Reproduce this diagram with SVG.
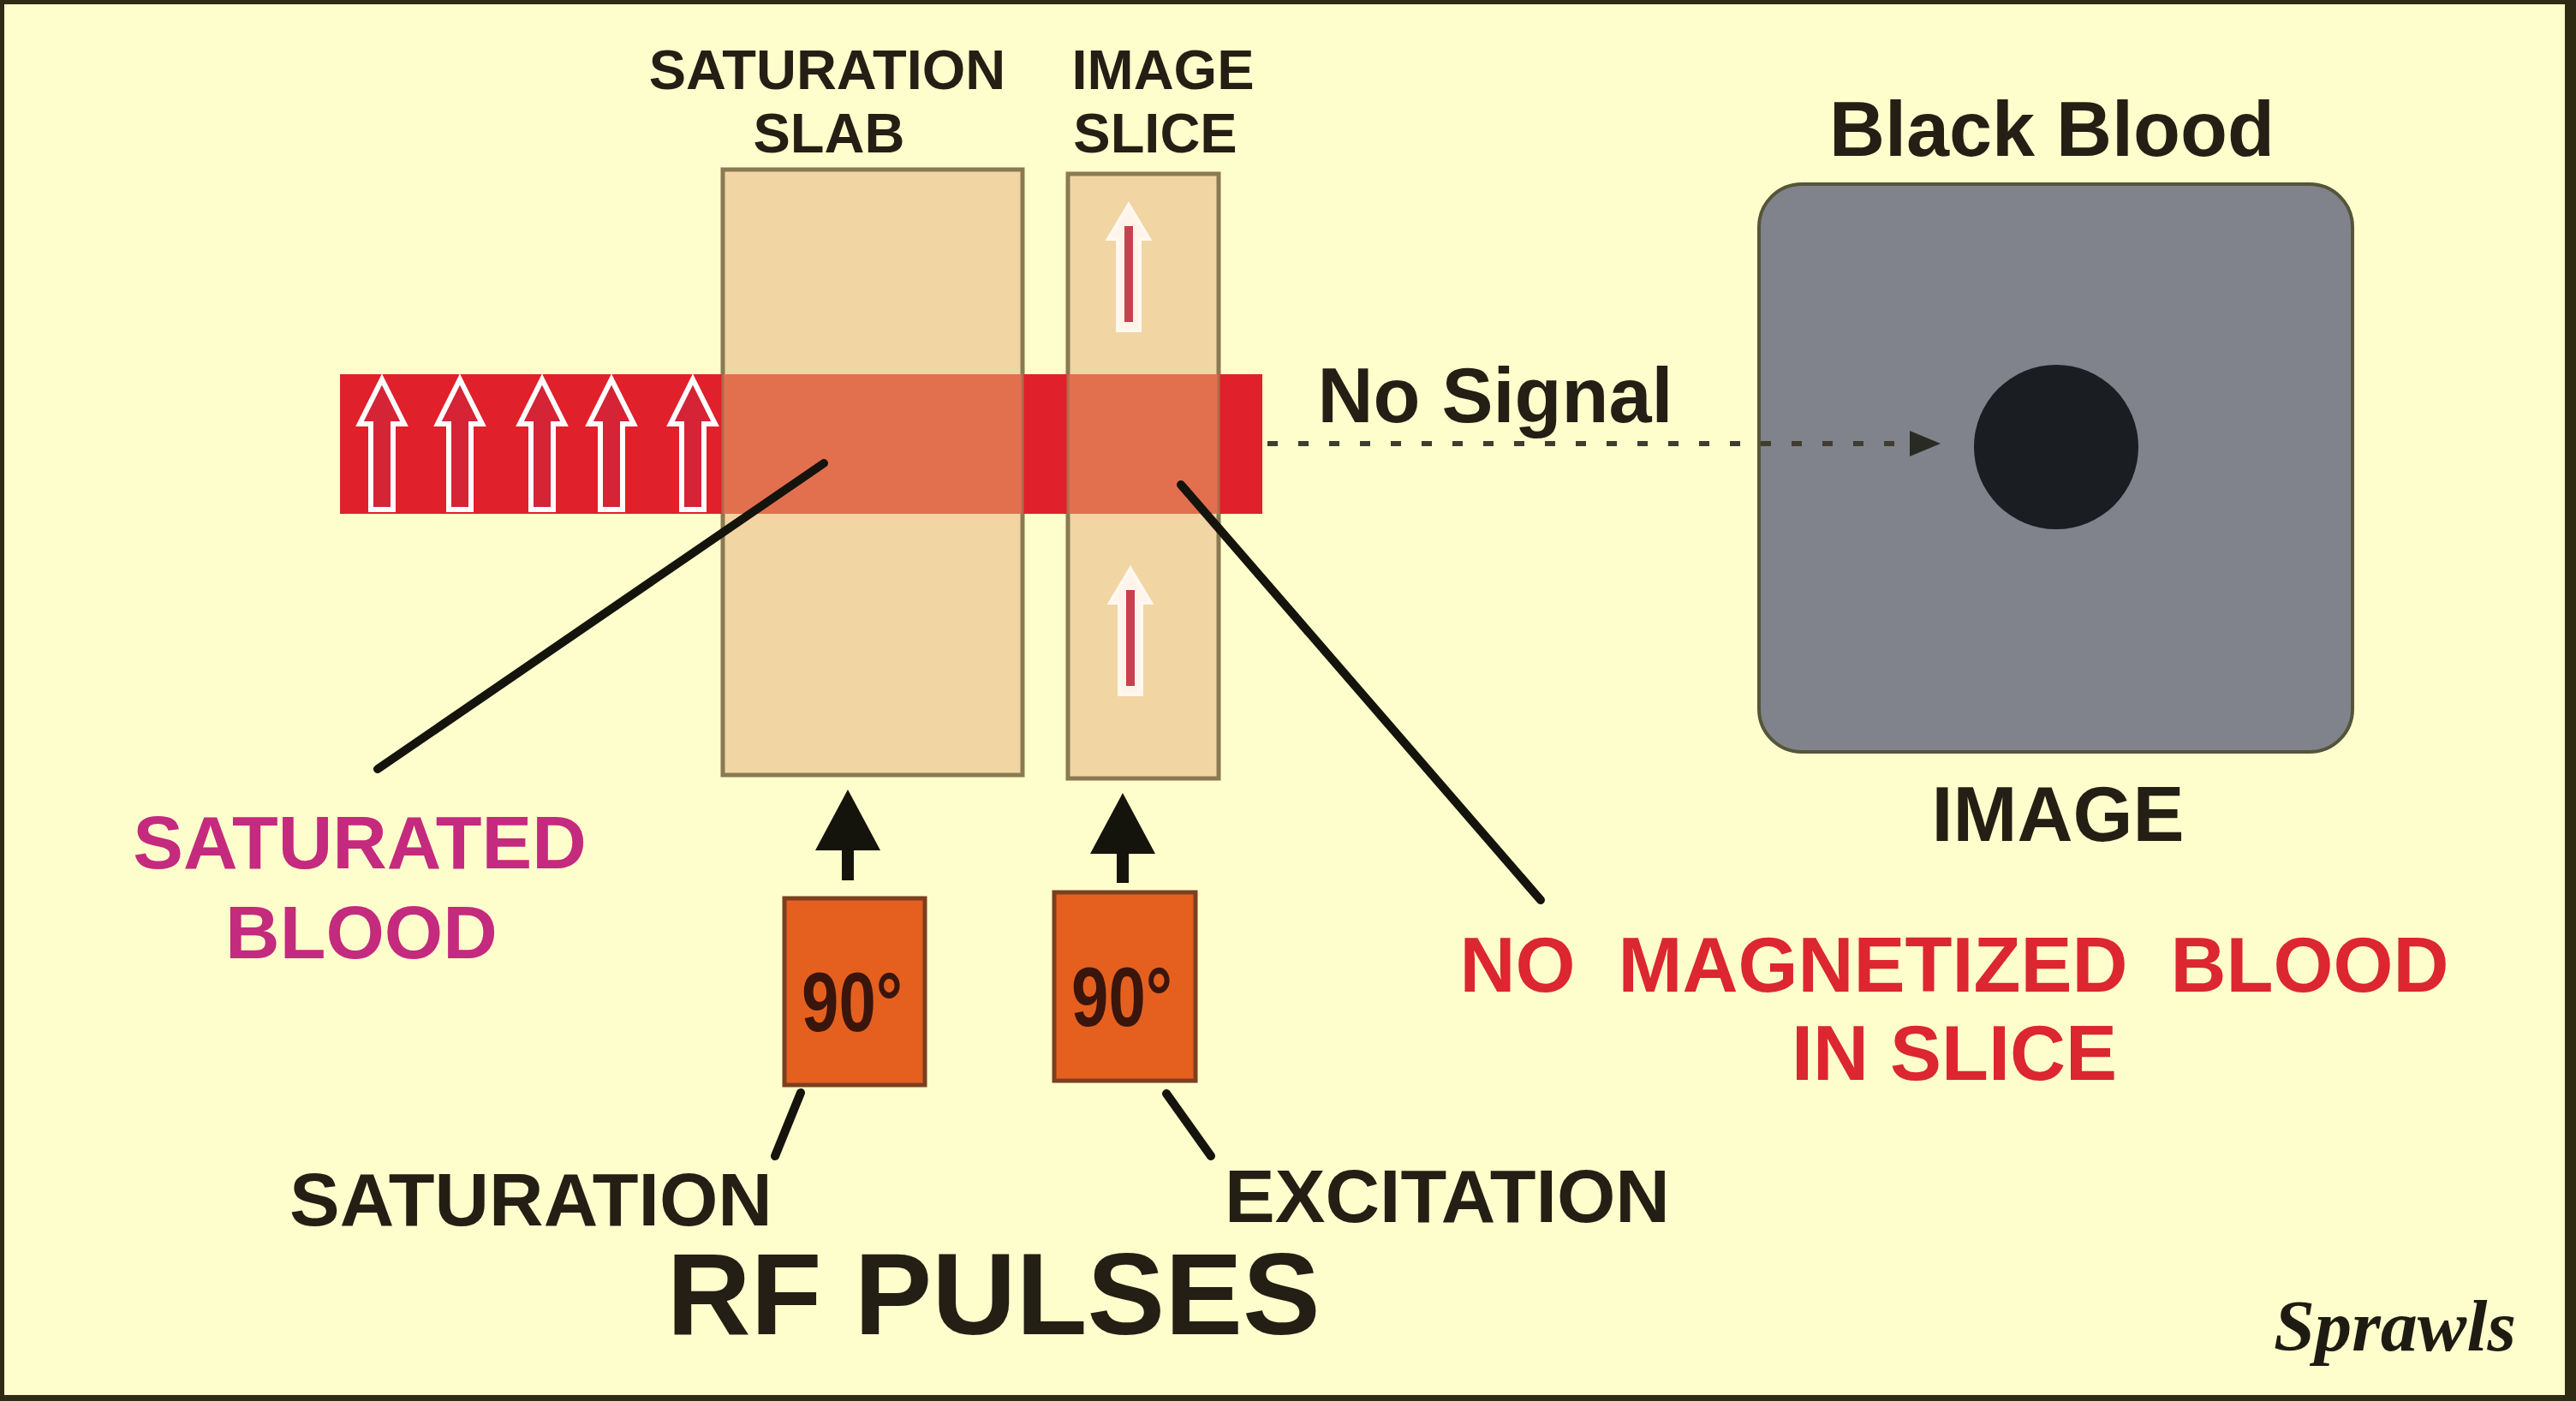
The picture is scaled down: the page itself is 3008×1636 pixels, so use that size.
<svg xmlns="http://www.w3.org/2000/svg" width="3008" height="1636" viewBox="0 0 3008 1636">
<defs>
<style>
.t{font-family:"Liberation Sans",Arial,sans-serif;font-weight:bold;fill:#231f14}
.mag{fill:#c42a7e}
.red{fill:#dc2630}
.slab{fill:#f1d5a3;stroke:#8a7a52;stroke-width:5}
.ovl{fill:#e2704f}
.lead{stroke:#15140c;stroke-width:10;stroke-linecap:round;fill:none}
.pulse{fill:#e5601f;stroke:#7a4020;stroke-width:5}
.deg{font-family:"Liberation Sans",Arial,sans-serif;font-weight:bold;fill:#3a150c}
</style>
<path id="hollow" d="M0,0 L26,52 L13,52 L13,152 L-13,152 L-13,52 L-26,52 Z" fill="#d42436" stroke="#ffffff" stroke-width="6" stroke-linejoin="miter"/>
<g id="sliceArrow">
<path d="M0,0 L24,40 L13,40 L13,147 L-13,147 L-13,40 L-24,40 Z" fill="#fff6ee" stroke="#fffaf5" stroke-width="4" opacity="0.95"/>
<rect x="-5" y="25" width="10" height="112" fill="#c8404e"/>
</g>
</defs>

<rect x="0" y="0" width="3008" height="1636" fill="#2e2a14"/>
<rect x="5" y="5" width="2990" height="1624" fill="#fefdcc"/>

<g id="saturation-slab">
<rect class="slab" x="844" y="198" width="350" height="707"/>
<text class="t" x="966" y="104" font-size="65" text-anchor="middle">SATURATION</text>
<text class="t" x="968" y="178" font-size="65" text-anchor="middle">SLAB</text>
</g>

<g id="image-slice">
<rect class="slab" x="1247" y="203" width="176" height="706"/>
<text class="t" x="1358" y="104" font-size="65" text-anchor="middle">IMAGE</text>
<text class="t" x="1349" y="178" font-size="65" text-anchor="middle">SLICE</text>
<use href="#sliceArrow" x="1318" y="239"/>
<use href="#sliceArrow" x="1320" y="664"/>
</g>

<g id="blood-vessel">
<rect x="397" y="437" width="1077" height="163" fill="#e0202a"/>
<rect class="ovl" x="844" y="437" width="350" height="163"/>
<rect class="ovl" x="1247" y="437" width="176" height="163"/>
<line x1="844" y1="437" x2="844" y2="600" stroke="#b06a48" stroke-width="3"/>
<line x1="1194" y1="437" x2="1194" y2="600" stroke="#b06a48" stroke-width="3"/>
<line x1="1247" y1="437" x2="1247" y2="600" stroke="#b06a48" stroke-width="3"/>
<line x1="1423" y1="437" x2="1423" y2="600" stroke="#b06a48" stroke-width="3"/>
<use href="#hollow" x="446" y="443"/>
<use href="#hollow" x="537" y="443"/>
<use href="#hollow" x="633" y="443"/>
<use href="#hollow" x="714" y="443"/>
<use href="#hollow" x="809" y="443"/>
</g>

<g id="black-blood-image">
<text class="t" x="2396" y="182" font-size="90" text-anchor="middle">Black Blood</text>
<rect x="2054" y="215" width="693" height="663" rx="50" ry="50" fill="#80838c" stroke="#55553a" stroke-width="4"/>
<circle cx="2401" cy="522" r="96" fill="#1a1d22"/>
<text class="t" x="2403" y="982" font-size="90" text-anchor="middle">IMAGE</text>
</g>

<g id="pulse-saturation">
<rect class="pulse" x="916" y="1049" width="164" height="218"/>
<text class="deg" x="936" y="1204" font-size="98" textLength="118" lengthAdjust="spacingAndGlyphs">90°</text>
</g>

<g id="pulse-excitation">
<rect class="pulse" x="1231" y="1042" width="165" height="220"/>
<text class="deg" x="1251" y="1198" font-size="98" textLength="118" lengthAdjust="spacingAndGlyphs">90°</text>
</g>

<g id="labels">
<text class="t" x="1746" y="493" font-size="90" text-anchor="middle">No Signal</text>
<text class="t mag" x="420" y="1014" font-size="88" text-anchor="middle">SATURATED</text>
<text class="t mag" x="422" y="1119" font-size="88" text-anchor="middle">BLOOD</text>
<text class="t red" x="2282" y="1158" font-size="90" text-anchor="middle" xml:space="preserve">NO  MAGNETIZED  BLOOD</text>
<text class="t red" x="2282" y="1261" font-size="90" text-anchor="middle">IN SLICE</text>
<text class="t" x="620" y="1431" font-size="88" text-anchor="middle">SATURATION</text>
<text class="t" x="1690" y="1427" font-size="88" text-anchor="middle">EXCITATION</text>
<text class="t" x="1160" y="1558" font-size="136" text-anchor="middle">RF PULSES</text>
<text x="2655" y="1577" font-family="'Liberation Serif','Times New Roman',serif" font-weight="bold" font-style="italic" font-size="84" fill="#1e1c12" textLength="283" lengthAdjust="spacingAndGlyphs">Sprawls</text>
</g>

<g id="connectors">
<line class="lead" x1="441" y1="898" x2="962" y2="541"/>
<line class="lead" x1="1379" y1="566" x2="1799" y2="1051"/>
<line class="lead" x1="935" y1="1276" x2="905" y2="1350"/>
<line class="lead" x1="1362" y1="1277" x2="1414" y2="1350"/>
<g fill="#15140c">
<path d="M990,922 L1028,993 L997,993 L997,1028 L983,1028 L983,993 L952,993 Z"/>
<path d="M1311,926 L1349,997 L1318,997 L1318,1031 L1304,1031 L1304,997 L1273,997 Z"/>
</g>
<line x1="1480" y1="518" x2="2230" y2="518" stroke="#3e3d30" stroke-width="6" stroke-dasharray="12 24"/>
<path d="M2230,503 L2266,518 L2230,533 Z" fill="#2a2a24"/>
</g>
</svg>
